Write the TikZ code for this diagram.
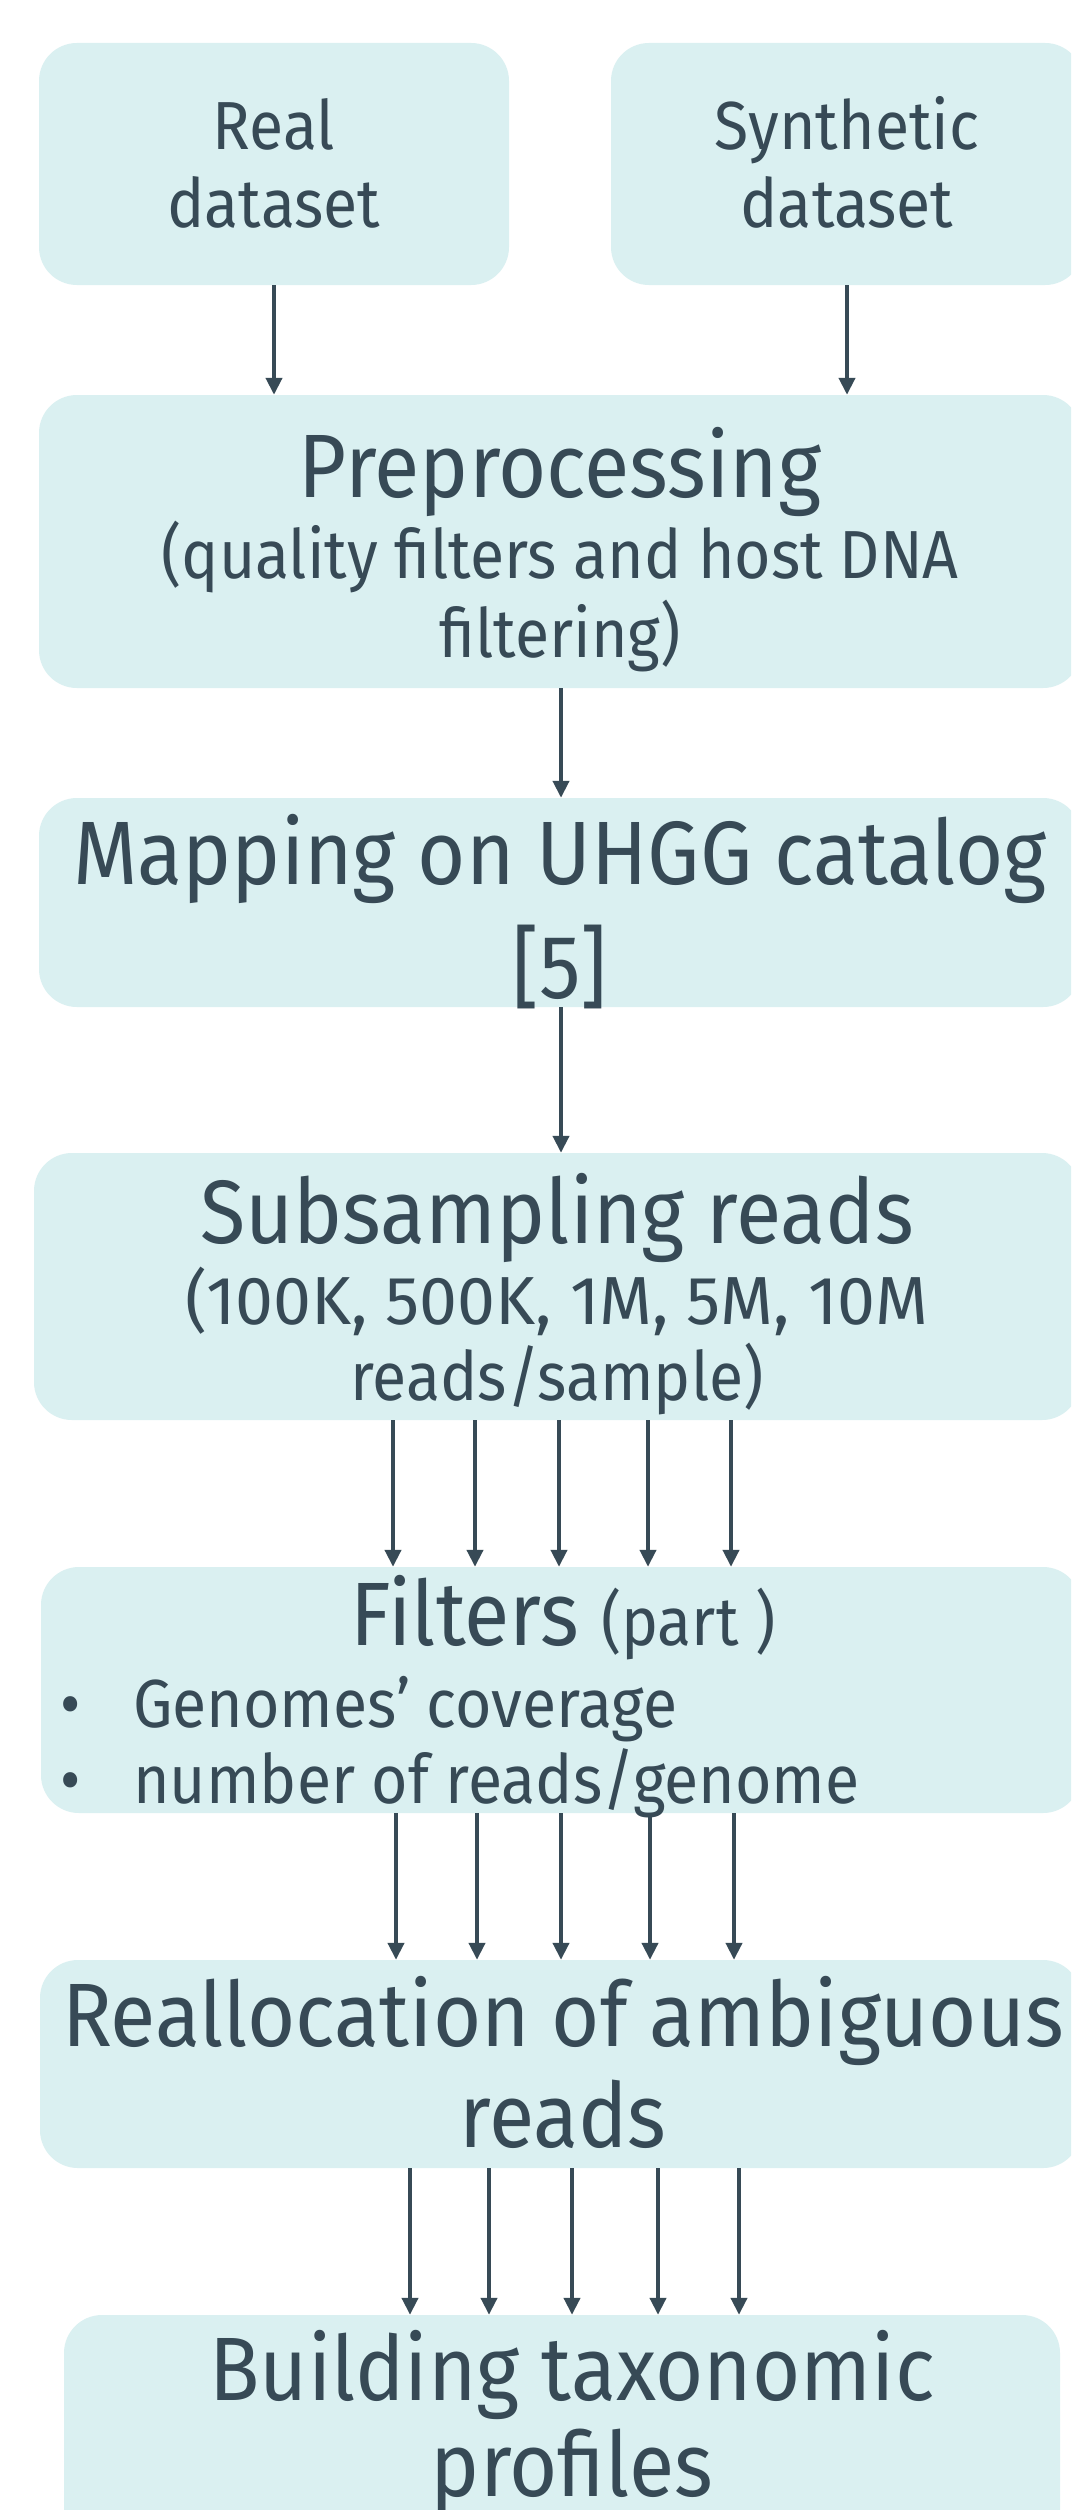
\documentclass[tikz,border=0pt]{standalone}
\usepackage{fontspec}
\setmainfont{Fira Sans}[FakeStretch=0.92]
\newfontfamily\digitfont{Fira Sans}
\usetikzlibrary{arrows.meta}
\definecolor{ink}{RGB}{55,74,86}
\definecolor{boxfill}{RGB}{218,240,241}
\begin{document}
\begin{tikzpicture}[x=1pt,y=-1pt,
  box/.style={fill=boxfill, draw=none, rounded corners=38pt, inner sep=0pt, rectangle},
  big/.style={anchor=base, inner sep=0pt, text=ink, font=\fontsize{90}{100}\selectfont},
  small/.style={anchor=base, inner sep=0pt, text=ink, font=\fontsize{68}{80}\selectfont},
  smallw/.style={anchor=base west, inner sep=0pt, text=ink, font=\fontsize{68}{80}\selectfont},
  arr/.style={draw=ink, line width=4pt, -{Triangle[length=17pt,width=16pt]}}
]
\useasboundingbox (0,0) rectangle (1071,2510);
\clip (0,0) rectangle (1071,2510);
\fill[white] (0,0) rectangle (1071,2510);

% boxes
\node[box, minimum width=470pt, minimum height=242pt] (real) at (274,164) {};
\node[box, minimum width=472pt, minimum height=242pt] (syn) at (847,164) {};
\node[box, minimum width=1042pt, minimum height=293pt] (pre) at (560,541.5) {};
\node[box, minimum width=1042pt, minimum height=209pt] (map) at (560,902.5) {};
\node[box, minimum width=1046pt, minimum height=267pt] (sub) at (557,1286.5) {};
\node[box, minimum width=1040pt, minimum height=246pt] (filt) at (561,1690) {};
\node[box, minimum width=1041pt, minimum height=208pt] (realloc) at (560.5,2064) {};
\node[box, minimum width=996pt, minimum height=285pt] (build) at (562,2457.5) {};

% texts
\node[small] (t1a) at (274,150) {Real};
\node[small] (t1b) at (274,227) {dataset};
\node[small] (t2a) at (847,150) {Synthetic};
\node[small] (t2b) at (847,227) {dataset};
\node[big] (t3a) at (560,497) {Preprocessing};
\node[small] (t3b) at (560,578) {(quality filters and host DNA};
\node[small] (t3c) at (560,657) {filtering)};
\node[big] (t4a) at (560,884) {Mapping on UHGG catalog};
\node[big] (t4b) at (560,998) {[5]};
\node[big] (t5a) at (557,1243) {Subsampling reads};
\node[small] (t5b) at (557,1324) {\digitfont (100K, 500K, 1M, 5M, 10M};
\node[small] (t5c) at (557,1400) {reads/sample)};
\node[big] (t6a) at (563,1645) {Filters {\fontsize{68}{80}\selectfont (part )}};
\node[small] (b1) at (71,1727) {•};
\node[smallw] (t6b) at (133,1727) {Genomes’ coverage};
\node[small] (b2) at (71,1803) {•};
\node[smallw] (t6c) at (133,1803) {number of reads/genome};
\node[big] (t7a) at (563,2046) {Reallocation of ambiguous};
\node[big] (t7b) at (563,2147) {reads};
\node[big] (t8a) at (572,2400) {Building taxonomic};
\node[big] (t8b) at (572,2496) {profiles};

% connectors
\draw[arr] (real.south) -- (real.south |- pre.north);
\draw[arr] (syn.south) -- (syn.south |- pre.north);
\draw[arr] (pre.south -| 561,0) -- (map.north -| 561,0);
\draw[arr] (map.south -| 561,0) -- (sub.north -| 561,0);
\foreach \x in {393,475,559,648,731}
  \draw[arr] (sub.south -| \x,0) -- (filt.north -| \x,0);
\foreach \x in {396,477,561,650,734}
  \draw[arr] (filt.south -| \x,0) -- (realloc.north -| \x,0);
\foreach \x in {410,489,572,658,739}
  \draw[arr] (realloc.south -| \x,0) -- (build.north -| \x,0);
\end{tikzpicture}
\end{document}
